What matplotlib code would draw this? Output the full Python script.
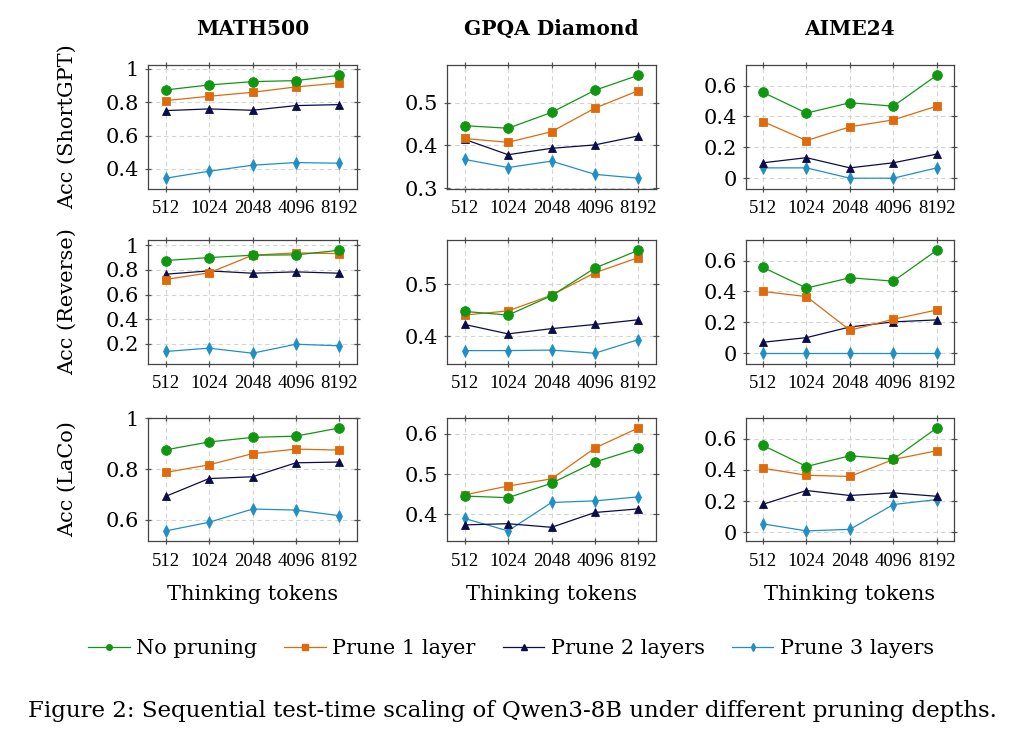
import matplotlib
matplotlib.use("Agg")
import matplotlib.pyplot as plt
from matplotlib.lines import Line2D

plt.rcParams['font.family'] = ['DejaVu Serif']
plt.rcParams['mathtext.fontset'] = 'dejavuserif'

tokens = ["512", "1024", "2048", "4096", "8192"]
datasets = ["MATH500", "GPQA Diamond", "AIME24"]
methods = ["ShortGPT", "Reverse", "LaCo"]
series_names = ["No pruning", "Prune 1 layer", "Prune 2 layers", "Prune 3 layers"]

# ShortGPT row
math_shortgpt_p0 = [0.874, 0.904, 0.924, 0.930, 0.962]
math_shortgpt_p1 = [0.810, 0.836, 0.860, 0.892, 0.916]
math_shortgpt_p2 = [0.750, 0.760, 0.752, 0.780, 0.786]
math_shortgpt_p3 = [0.344, 0.386, 0.422, 0.438, 0.434]
gpqa_shortgpt_p0 = [0.446, 0.440, 0.477, 0.529, 0.564]
gpqa_shortgpt_p1 = [0.416, 0.407, 0.432, 0.487, 0.528]
gpqa_shortgpt_p2 = [0.414, 0.378, 0.393, 0.401, 0.422]
gpqa_shortgpt_p3 = [0.367, 0.348, 0.363, 0.332, 0.323]
aime_shortgpt_p0 = [0.556, 0.422, 0.489, 0.467, 0.667]
aime_shortgpt_p1 = [0.367, 0.244, 0.333, 0.378, 0.467]
aime_shortgpt_p2 = [0.100, 0.133, 0.067, 0.100, 0.156]
aime_shortgpt_p3 = [0.067, 0.067, 0.000, 0.000, 0.067]

# Reverse row
math_reverse_p0 = [0.876, 0.900, 0.919, 0.922, 0.959]
math_reverse_p1 = [0.722, 0.776, 0.919, 0.938, 0.932]
math_reverse_p2 = [0.765, 0.792, 0.773, 0.784, 0.773]
math_reverse_p3 = [0.138, 0.165, 0.124, 0.197, 0.184]
gpqa_reverse_p0 = [0.448, 0.441, 0.478, 0.531, 0.565]
gpqa_reverse_p1 = [0.441, 0.449, 0.479, 0.522, 0.551]
gpqa_reverse_p2 = [0.423, 0.405, 0.415, 0.423, 0.432]
gpqa_reverse_p3 = [0.373, 0.373, 0.374, 0.368, 0.394]
aime_reverse_p0 = [0.556, 0.422, 0.489, 0.467, 0.667]
aime_reverse_p1 = [0.400, 0.367, 0.149, 0.220, 0.280]
aime_reverse_p2 = [0.071, 0.101, 0.170, 0.203, 0.216]
aime_reverse_p3 = [0.000, 0.000, 0.000, 0.000, 0.000]

# LaCo row
math_laco_p0 = [0.876, 0.907, 0.925, 0.930, 0.962]
math_laco_p1 = [0.787, 0.817, 0.861, 0.879, 0.875]
math_laco_p2 = [0.693, 0.763, 0.770, 0.825, 0.828]
math_laco_p3 = [0.557, 0.591, 0.643, 0.639, 0.617]
gpqa_laco_p0 = [0.445, 0.441, 0.477, 0.530, 0.564]
gpqa_laco_p1 = [0.448, 0.470, 0.488, 0.565, 0.615]
gpqa_laco_p2 = [0.373, 0.376, 0.367, 0.404, 0.413]
gpqa_laco_p3 = [0.389, 0.358, 0.429, 0.433, 0.443]
aime_laco_p0 = [0.557, 0.422, 0.491, 0.469, 0.669]
aime_laco_p1 = [0.411, 0.366, 0.358, 0.467, 0.523]
aime_laco_p2 = [0.180, 0.268, 0.236, 0.253, 0.231]
aime_laco_p3 = [0.054, 0.009, 0.019, 0.178, 0.210]

yticks_grid = [
    [[0.4, 0.6, 0.8, 1.0], [0.3, 0.4, 0.5], [0.0, 0.2, 0.4, 0.6]],
    [[0.2, 0.4, 0.6, 0.8, 1.0], [0.4, 0.5], [0.0, 0.2, 0.4, 0.6]],
    [[0.6, 0.8, 1.0], [0.4, 0.5, 0.6], [0.0, 0.2, 0.4, 0.6]],
]

grid_data = [
    [[math_shortgpt_p0, math_shortgpt_p1, math_shortgpt_p2, math_shortgpt_p3],
     [gpqa_shortgpt_p0, gpqa_shortgpt_p1, gpqa_shortgpt_p2, gpqa_shortgpt_p3],
     [aime_shortgpt_p0, aime_shortgpt_p1, aime_shortgpt_p2, aime_shortgpt_p3]],
    [[math_reverse_p0, math_reverse_p1, math_reverse_p2, math_reverse_p3],
     [gpqa_reverse_p0, gpqa_reverse_p1, gpqa_reverse_p2, gpqa_reverse_p3],
     [aime_reverse_p0, aime_reverse_p1, aime_reverse_p2, aime_reverse_p3]],
    [[math_laco_p0, math_laco_p1, math_laco_p2, math_laco_p3],
     [gpqa_laco_p0, gpqa_laco_p1, gpqa_laco_p2, gpqa_laco_p3],
     [aime_laco_p0, aime_laco_p1, aime_laco_p2, aime_laco_p3]],
]

colors = ["#119611", "#de6a0c", "#0c0c4a", "#1f8fc6"]
markers = ["o", "s", "^", "d"]
msizes = [7, 6.2, 6.2, 5.8]

W, H = 1016, 734
fig = plt.figure(figsize=(W / 100, H / 100), dpi=100)

col_left = [148.3, 447.3, 745.7]
row_top = [65, 240, 417.7]
ax_w, ax_h = 208.4, 123.5

x = list(range(len(tokens)))
for r in range(3):
    for c in range(3):
        ax = fig.add_axes([col_left[c] / W, 1 - (row_top[r] + ax_h) / H, ax_w / W, ax_h / H])
        for k in range(4):
            ax.plot(x, grid_data[r][c][k], color=colors[k], marker=markers[k],
                    markersize=msizes[k], linewidth=0.9, markeredgewidth=0.6,
                    markeredgecolor=colors[k], zorder=3 + (3 - k) * 0.1)
        ax.margins(x=0.1, y=0.1)
        ax.set_xticks(x)
        ax.set_xticklabels(tokens, fontsize=13.5, family=['Liberation Serif', 'DejaVu Serif'])
        yt = yticks_grid[r][c]
        ax.set_yticks(yt)
        ax.set_yticklabels([f"{v:g}" for v in yt], fontsize=15)
        ax.grid(True, color="#d4d4d4", linestyle=(0, (4, 3)), linewidth=0.8, zorder=0)
        ax.set_axisbelow(True)
        ax.tick_params(direction="inout", length=5, width=0.9, color="#555555",
                       top=True, right=True, pad=4)
        ax.tick_params(axis="x", pad=6)
        for s in ax.spines.values():
            s.set_color("#444444")
            s.set_linewidth(0.9)
        if c == 0:
            ax.set_ylabel(f"Acc ({methods[r]})", fontsize=15)
            ax.yaxis.set_label_coords(-0.342, 0.5)
        if r == 2:
            ax.set_xlabel("Thinking tokens", fontsize=15)
            ax.xaxis.set_label_coords(0.5, -0.43)
            ax.xaxis.label.set_va("center")
        if r == 0:
            fig.text((col_left[c] + ax_w / 2) / W, 1 - 29 / H, datasets[c],
                     ha="center", va="center", fontsize=14.5, fontweight="bold")

handles = [Line2D([0], [0], color=colors[k], marker=markers[k], markersize=4,
                  linewidth=0.9, markeredgecolor=colors[k]) for k in range(4)]
fig.legend(handles, series_names, loc="center", bbox_to_anchor=(0.503, 1 - 649 / H),
           ncol=4, frameon=False, fontsize=15, handlelength=2.0, handletextpad=0.3,
           columnspacing=1.3)

fig.text(512 / W, 1 - 711 / H,
         "Figure 2: Sequential test-time scaling of Qwen3-8B under different pruning depths.",
         ha="center", va="center", fontsize=16.5)

fig.savefig("out.png", dpi=100, facecolor="white")
